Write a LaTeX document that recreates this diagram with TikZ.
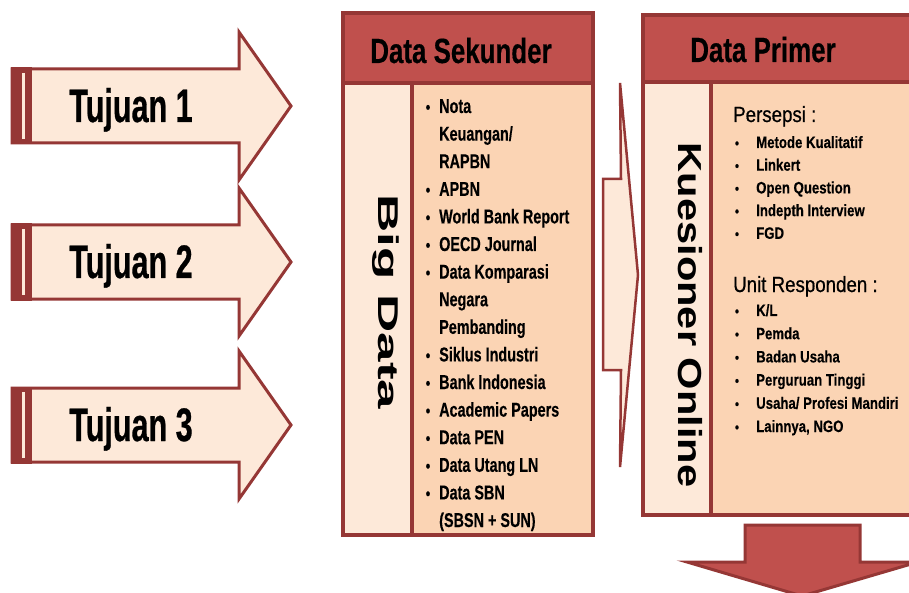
\documentclass[tikz,border=0pt]{standalone}
\usepackage{fontspec}
\setmainfont{Liberation Sans}
\newfontfamily\tjfont{Liberation Sans}[FakeStretch=0.65, FakeBold=0.6]
\newfontfamily\hdfont{Liberation Sans}[FakeStretch=0.74, FakeBold=0.4]
\newfontfamily\skfont{Liberation Sans}[FakeStretch=0.72, FakeBold=0.3]
\newfontfamily\itfont{Liberation Sans}[FakeStretch=0.8, FakeBold=0.3]
\newfontfamily\sbfont{Liberation Sans}[FakeStretch=0.85, FakeBold=0.6]
\usepackage{graphicx}
\usetikzlibrary{positioning}
\definecolor{merahtua}{HTML}{953735}
\definecolor{merah}{HTML}{C0504D}
\definecolor{krem}{HTML}{FDE9D9}
\definecolor{peach}{HTML}{FBD4B4}

\begin{document}
\begin{tikzpicture}[x=1pt, y=-1pt, line join=miter,
  panah/.style={draw=merahtua, line width=3pt, fill=krem},
  kotak/.style={draw=merahtua, line width=3.5pt},
  tujuan/.style={font=\tjfont\bfseries\fontsize{47}{47}\selectfont, anchor=base, inner sep=0pt},
  judul/.style={font=\hdfont\bfseries\fontsize{35}{35}\selectfont, anchor=base, inner sep=0pt},
  tegak/.style={rotate=-90, anchor=base, inner sep=0pt},
  sek/.style={font=\skfont\bfseries\fontsize{20}{20}\selectfont, anchor=base west, inner sep=0pt},
  subjudul/.style={font=\sbfont\fontsize{22}{22}\selectfont, anchor=base west, inner sep=0pt},
  pri/.style={font=\itfont\bfseries\fontsize{16.5}{16.5}\selectfont, anchor=base west, inner sep=0pt},
  titik/.style={anchor=base, inner sep=0pt}]
\useasboundingbox (0,0) rectangle (909,593);
\clip (0,0) rectangle (909,593);

% Panah tujuan
\foreach \y/\n in {106/1, 262/2, 425/3} {
  \draw[panah] (12,\y-37) -- (239,\y-37) -- (239,\y-74) -- (291,\y)
    -- (239,\y+74) -- (239,\y+37) -- (12,\y+37) -- cycle;
  \fill[merahtua] (10.5,\y-38.5) rectangle (32,\y+38.5);
  \draw[krem, line width=3pt] (23.5,\y-33) -- (23.5,\y+33);
  \node[tujuan] (tj\n) at (131,\y+16) {Tujuan \n};
}

% Data sekunder
\fill[krem] (343,83) rectangle (412,535);
\fill[peach] (412,83) rectangle (593,535);
\fill[merah] (343,13) rectangle (593,83);
\draw[kotak] (343,13) rectangle (593,535);
\draw[kotak] (343,83) -- (593,83);
\draw[kotak] (412,83) -- (412,535);
\node[judul] (hsek) at (461,63) {Data Sekunder};
\node[tegak, font=\bfseries\fontsize{53}{53}\selectfont] (big) at (378,302)
  {\scalebox{1}[0.54]{Big Data}};
\foreach \t [count=\i from 0] in {Nota, Keuangan/, RAPBN, APBN, World Bank Report,
    OECD Journal, Data Komparasi, Negara, Pembanding, Siklus Industri,
    Bank Indonesia, Academic Papers, Data PEN, Data Utang LN, Data SBN, (SBSN + SUN)}
  \node[sek] (sek\i) at (439,113+27.6*\i) {\t};
\foreach \i in {0,3,4,5,6,9,10,11,12,13,14}
  \node[titik, font=\hdfont\bfseries\fontsize{17}{17}\selectfont] (bs\i) at (428,113+27.6*\i) {\textbullet};

% Panah tengah
\draw[panah, line width=2.5pt] (603,179) -- (621,179) -- (620,83) -- (638,275)
  -- (620,467) -- (621,370) -- (603,370) -- cycle;

% Data primer
\fill[krem] (643,82) rectangle (711,515);
\fill[peach] (711,82) rectangle (915,515);
\fill[merah] (643,15) rectangle (915,82);
\draw[kotak] (643,15) rectangle (915,515);
\draw[kotak] (643,82) -- (915,82);
\draw[kotak] (711,82) -- (711,515);
\node[judul] (hpri) at (763,62) {Data Primer};
\node[tegak, font=\bfseries\fontsize{41.6}{41.6}\selectfont] (kues) at (678,315)
  {\scalebox{1}[0.8]{Kuesioner Online}};
\node[subjudul] (persepsi) at (733,122) {Persepsi :};
\foreach \t [count=\i from 0] in {Metode Kualitatif, Linkert, Open Question,
    Indepth Interview, FGD} {
  \node[pri] (p\i) at (756,148+22.7*\i) {\t};
  \node[titik, font=\itfont\bfseries\fontsize{14}{14}\selectfont] (bp\i) at (737,148+22.7*\i) {\textbullet};
}
\node[subjudul] (unit) at (733,292) {Unit Responden :};
\foreach \t [count=\i from 0] in {K/L, Pemda, Badan Usaha, Perguruan Tinggi,
    Usaha/ Profesi Mandiri, {Lainnya, NGO}} {
  \node[pri] (u\i) at (756,316+23.2*\i) {\t};
  \node[titik, font=\itfont\bfseries\fontsize{14}{14}\selectfont] (bu\i) at (737,316+23.2*\i) {\textbullet};
}

% Panah bawah
\draw[draw=merahtua, line width=3pt, fill=merah] (745,525) -- (860,525) -- (860,562)
  -- (918,562) -- (802,596) -- (687,562) -- (745,562) -- cycle;
\end{tikzpicture}
\end{document}
